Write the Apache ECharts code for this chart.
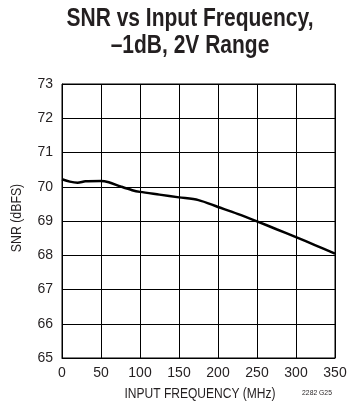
<!DOCTYPE html>
<html>
<head>
<meta charset="utf-8">
<script src="https://cdn.jsdelivr.net/npm/echarts@6/dist/echarts.min.js"></script>
<style>
  html, body { margin: 0; padding: 0; background: #fff; }
  #chart { width: 354px; height: 405px; }
</style>
</head>
<body>
<div id="chart"></div>
<script>
// input frequency (MHz) and SNR (dBFS)
var freq = [0, 10, 20, 30, 50, 60, 75, 90, 100, 125, 150, 175, 200, 225, 250, 275, 300, 325, 350];
var snr = [70.22, 70.15, 70.12, 70.16, 70.17, 70.13, 70.01, 69.9, 69.85, 69.77, 69.69, 69.61, 69.41, 69.21, 68.99, 68.76, 68.53, 68.29, 68.05];

var xTicks = [0, 50, 100, 150, 200, 250, 300, 350];
var yTicks = [65, 66, 67, 68, 69, 70, 71, 72, 73];

var points = [];
for (var i = 0; i < freq.length; i++) {
    points.push([freq[i], snr[i]]);
}

var labelFont = '"Liberation Sans", Arial, sans-serif';
var ink = '#231f20';

var option = {
    animation: false,
    backgroundColor: '#fff',
    grid: {
        left: 62,
        right: 19,
        top: 84,
        bottom: 47,
        show: true,
        borderColor: '#000',
        borderWidth: 1
    },
    xAxis: {
        type: 'value',
        min: xTicks[0],
        max: xTicks[xTicks.length - 1],
        interval: 50,
        axisLine: { lineStyle: { color: '#000', width: 1 } },
        axisTick: { show: false },
        axisLabel: { fontFamily: labelFont, fontSize: 14, color: ink, margin: 8 },
        splitLine: { show: true, lineStyle: { color: '#000', width: 1 } }
    },
    yAxis: {
        type: 'value',
        min: yTicks[0],
        max: yTicks[yTicks.length - 1],
        interval: 1,
        axisLine: { lineStyle: { color: '#000', width: 1 } },
        axisTick: { show: false },
        axisLabel: { fontFamily: labelFont, fontSize: 14, color: ink, margin: 9 },
        splitLine: { show: true, lineStyle: { color: '#000', width: 1 } }
    },
    graphic: [
        {
            // condensed-look title
            type: 'text',
            x: 190, y: 19, scaleX: 0.84,
            style: {
                text: 'SNR vs Input Frequency,', font: 'bold 25px ' + labelFont,
                fill: ink, textAlign: 'center', textVerticalAlign: 'middle'
            }
        },
        {
            type: 'text',
            x: 190, y: 46, scaleX: 0.84,
            style: {
                text: '\u20131dB, 2V Range', font: 'bold 25px ' + labelFont,
                fill: ink, textAlign: 'center', textVerticalAlign: 'middle'
            }
        },
        {
            type: 'text',
            x: 200, y: 394, scaleX: 0.86,
            style: {
                text: 'INPUT FREQUENCY (MHz)', font: '14px ' + labelFont,
                fill: ink, textAlign: 'center', textVerticalAlign: 'middle'
            }
        },
        {
            type: 'text',
            x: 17, y: 218, rotation: Math.PI / 2, scaleX: 0.88,
            style: {
                text: 'SNR (dBFS)', font: '14px ' + labelFont,
                fill: ink, textAlign: 'center', textVerticalAlign: 'middle'
            }
        },
        {
            type: 'text',
            x: 317, y: 393, scaleX: 0.85,
            style: {
                text: '2282 G25', font: '8px ' + labelFont,
                fill: ink, textAlign: 'center', textVerticalAlign: 'middle'
            }
        }
    ],
    series: [{
        type: 'line',
        data: points,
        smooth: 0.3,
        showSymbol: false,
        lineStyle: { color: '#000', width: 2.5 }
    }]
};

var myChart = echarts.init(document.getElementById('chart'));
myChart.setOption(option);
</script>
</body>
</html>
